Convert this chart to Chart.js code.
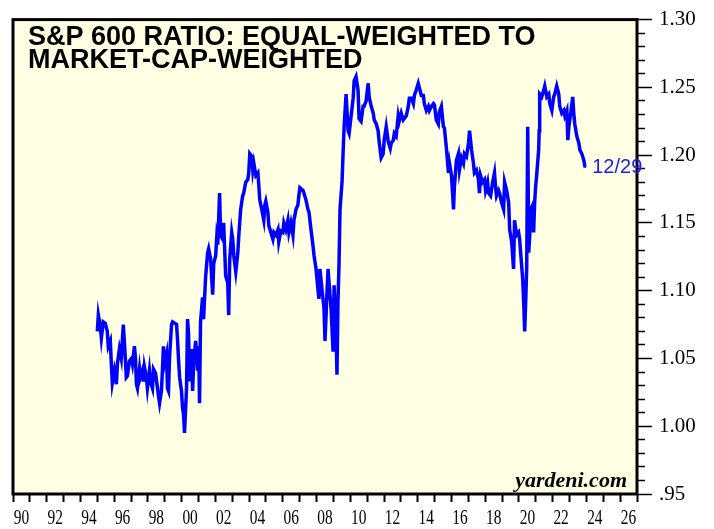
<!DOCTYPE html>
<html>
<head>
<meta charset="utf-8">
<script src="https://cdn.jsdelivr.net/npm/chart.js@4/dist/chart.umd.min.js"></script>
<style>
  html, body { margin: 0; padding: 0; background: #fff; }
  canvas { display: block; }
</style>
</head>
<body>
<canvas id="ratioChart" width="714" height="529"></canvas>
<script>
// Fechas (años decimales) y valores del ratio
const years = [
  1995.00, 1995.06, 1995.18, 1995.24, 1995.35, 1995.47, 1995.59, 1995.65, 1995.77, 1995.83,
  1995.89, 1996.01, 1996.13, 1996.19, 1996.31, 1996.42, 1996.54, 1996.60, 1996.66, 1996.72,
  1996.78, 1996.90, 1997.02, 1997.08, 1997.20, 1997.26, 1997.32, 1997.38, 1997.50, 1997.55,
  1997.67, 1997.73, 1997.79, 1997.91, 1997.97, 1998.09, 1998.15, 1998.27, 1998.33, 1998.45,
  1998.57, 1998.63, 1998.69, 1998.80, 1998.86, 1998.92, 1998.98, 1999.10, 1999.16, 1999.22,
  1999.28, 1999.40, 1999.46, 1999.58, 1999.70, 1999.76, 1999.82, 1999.88, 1999.99, 2000.05,
  2000.11, 2000.17, 2000.29, 2000.35, 2000.41, 2000.47, 2000.59, 2000.65, 2000.71, 2000.83,
  2000.95, 2001.01, 2001.06, 2001.12, 2001.24, 2001.30, 2001.42, 2001.54, 2001.60, 2001.72,
  2001.84, 2001.90, 2002.02, 2002.08, 2002.14, 2002.25, 2002.31, 2002.43, 2002.49, 2002.55,
  2002.61, 2002.73, 2002.79, 2002.85, 2002.97, 2003.03, 2003.09, 2003.21, 2003.33, 2003.39,
  2003.50, 2003.62, 2003.68, 2003.80, 2003.92, 2003.98, 2004.04, 2004.16, 2004.22, 2004.28,
  2004.40, 2004.52, 2004.58, 2004.63, 2004.75, 2004.87, 2004.93, 2004.99, 2005.11, 2005.17,
  2005.29, 2005.41, 2005.47, 2005.59, 2005.71, 2005.76, 2005.88, 2006.00, 2006.06, 2006.18,
  2006.30, 2006.36, 2006.48, 2006.60, 2006.66, 2006.78, 2006.89, 2006.95, 2007.01, 2007.19,
  2007.25, 2007.37, 2007.49, 2007.55, 2007.67, 2007.79, 2007.85, 2007.97, 2008.08, 2008.14,
  2008.20, 2008.32, 2008.44, 2008.50, 2008.62, 2008.68, 2008.74, 2008.86, 2008.98, 2009.04,
  2009.16, 2009.21, 2009.27, 2009.33, 2009.39, 2009.51, 2009.57, 2009.63, 2009.75, 2009.87,
  2009.93, 2010.05, 2010.17, 2010.23, 2010.34, 2010.46, 2010.52, 2010.64, 2010.76, 2010.82,
  2010.94, 2011.06, 2011.12, 2011.24, 2011.36, 2011.42, 2011.54, 2011.65, 2011.71, 2011.83,
  2011.95, 2012.01, 2012.13, 2012.25, 2012.37, 2012.43, 2012.55, 2012.61, 2012.72, 2012.84,
  2012.90, 2013.02, 2013.14, 2013.20, 2013.32, 2013.44, 2013.50, 2013.62, 2013.74, 2013.80,
  2013.91, 2014.03, 2014.09, 2014.21, 2014.33, 2014.39, 2014.51, 2014.63, 2014.69, 2014.81,
  2014.93, 2014.99, 2015.10, 2015.22, 2015.28, 2015.40, 2015.52, 2015.58, 2015.70, 2015.82,
  2015.88, 2016.00, 2016.12, 2016.17, 2016.29, 2016.41, 2016.47, 2016.59, 2016.71, 2016.77,
  2016.89, 2017.01, 2017.07, 2017.19, 2017.30, 2017.36, 2017.48, 2017.60, 2017.66, 2017.72,
  2017.84, 2017.96, 2018.02, 2018.14, 2018.20, 2018.32, 2018.44, 2018.55, 2018.61, 2018.67,
  2018.79, 2018.85, 2018.97, 2019.09, 2019.15, 2019.27, 2019.39, 2019.45, 2019.57, 2019.68,
  2019.74, 2019.86, 2019.98, 2020.04, 2020.10, 2020.22, 2020.28, 2020.34, 2020.40, 2020.46,
  2020.52, 2020.58, 2020.64, 2020.70, 2020.81, 2020.87, 2020.93, 2020.99, 2021.05, 2021.17,
  2021.20, 2021.23, 2021.35, 2021.47, 2021.53, 2021.65, 2021.77, 2021.83, 2021.95, 2022.06,
  2022.12, 2022.24, 2022.36, 2022.42, 2022.54, 2022.66, 2022.72, 2022.84, 2022.90, 2022.96,
  2023.07, 2023.19, 2023.25, 2023.31, 2023.43, 2023.55, 2023.61, 2023.73, 2023.85, 2023.91,
  2023.99
];
const ratio = [
  1.070, 1.082, 1.073, 1.065, 1.077, 1.076, 1.070, 1.059, 1.063, 1.046,
  1.032, 1.041, 1.031, 1.046, 1.057, 1.050, 1.075, 1.063, 1.050, 1.036,
  1.037, 1.048, 1.050, 1.046, 1.059, 1.050, 1.031, 1.028, 1.042, 1.036,
  1.041, 1.033, 1.044, 1.036, 1.028, 1.041, 1.033, 1.028, 1.042, 1.039,
  1.028, 1.022, 1.017, 1.026, 1.041, 1.059, 1.046, 1.053, 1.028, 1.026,
  1.050, 1.075, 1.077, 1.076, 1.075, 1.063, 1.048, 1.036, 1.026, 1.014,
  1.009, 0.995, 1.028, 1.079, 1.068, 1.033, 1.057, 1.026, 1.046, 1.063,
  1.041, 1.059, 1.017, 1.077, 1.095, 1.079, 1.110, 1.128, 1.131, 1.123,
  1.097, 1.120, 1.126, 1.139, 1.134, 1.172, 1.141, 1.138, 1.150, 1.131,
  1.111, 1.106, 1.082, 1.123, 1.143, 1.138, 1.126, 1.114, 1.128, 1.141,
  1.160, 1.170, 1.172, 1.180, 1.182, 1.187, 1.201, 1.199, 1.189, 1.194,
  1.185, 1.187, 1.177, 1.167, 1.160, 1.152, 1.163, 1.166, 1.158, 1.148,
  1.143, 1.138, 1.143, 1.141, 1.145, 1.136, 1.144, 1.143, 1.150, 1.145,
  1.152, 1.143, 1.150, 1.141, 1.152, 1.160, 1.163, 1.170, 1.176, 1.174,
  1.172, 1.167, 1.160, 1.158, 1.145, 1.133, 1.126, 1.116, 1.101, 1.094,
  1.116, 1.101, 1.087, 1.063, 1.099, 1.116, 1.106, 1.087, 1.055, 1.104,
  1.068, 1.038, 1.092, 1.119, 1.160, 1.180, 1.201, 1.220, 1.245, 1.218,
  1.216, 1.229, 1.242, 1.255, 1.258, 1.248, 1.227, 1.225, 1.236, 1.236,
  1.240, 1.253, 1.243, 1.236, 1.231, 1.226, 1.223, 1.218, 1.210, 1.198,
  1.201, 1.211, 1.221, 1.210, 1.205, 1.209, 1.211, 1.216, 1.214, 1.229,
  1.225, 1.231, 1.226, 1.227, 1.229, 1.236, 1.242, 1.242, 1.238, 1.244,
  1.248, 1.253, 1.250, 1.244, 1.244, 1.238, 1.233, 1.236, 1.233, 1.236,
  1.238, 1.237, 1.226, 1.223, 1.232, 1.236, 1.221, 1.220, 1.205, 1.187,
  1.194, 1.185, 1.160, 1.176, 1.196, 1.201, 1.189, 1.198, 1.194, 1.201,
  1.199, 1.209, 1.218, 1.204, 1.194, 1.187, 1.189, 1.182, 1.172, 1.185,
  1.180, 1.182, 1.174, 1.180, 1.172, 1.170, 1.180, 1.187, 1.177, 1.170,
  1.174, 1.172, 1.165, 1.160, 1.180, 1.174, 1.165, 1.145, 1.136, 1.116,
  1.152, 1.141, 1.143, 1.138, 1.128, 1.109, 1.092, 1.070, 1.092, 1.117,
  1.221, 1.128, 1.141, 1.160, 1.163, 1.143, 1.165, 1.177, 1.185, 1.204,
  1.218, 1.245, 1.243, 1.248, 1.251, 1.243, 1.245, 1.238, 1.233, 1.243,
  1.245, 1.251, 1.245, 1.236, 1.231, 1.233, 1.229, 1.233, 1.211, 1.221,
  1.231, 1.243, 1.231, 1.223, 1.214, 1.209, 1.204, 1.201, 1.196, 1.192,
  1.192
];

// Etiquetas de los ejes
const xTickLabels = ['90','92','94','96','98','00','02','04','06','08','10','12','14','16','18','20','22','24','26'];
const xLabelYears = [1990,1992,1994,1996,1998,2000,2002,2004,2006,2008,2010,2012,2014,2016,2018,2020,2022,2024,2026];
const yTickLabels = ['.95','1.00','1.05','1.10','1.15','1.20','1.25','1.30'];
const titleLines = ['S&P 600 RATIO: EQUAL-WEIGHTED TO', 'MARKET-CAP-WEIGHTED'];
const lastDateLabel = '12/29';
const sourceLabel = 'yardeni.com';

const xMin = 1990, xMax = 2027;
const yMin = 0.95, yMax = 1.30;

const puntos = years.map((x, i) => ({ x: x, y: ratio[i] }));

// Fondo, marco, títulos y etiquetas del eje x
const decoracion = {
  id: 'decoracion',
  beforeDraw(chart) {
    const { ctx, chartArea: a } = chart;
    ctx.save();
    ctx.fillStyle = '#FFFFE4';
    ctx.fillRect(a.left, a.top, a.right - a.left, a.bottom - a.top);
    ctx.restore();
  },
  afterDraw(chart) {
    const { ctx, chartArea: a } = chart;
    const xs = chart.scales.x;
    const ys = chart.scales.y;
    ctx.save();

    // marco
    ctx.strokeStyle = '#000';
    ctx.lineWidth = 3;
    ctx.strokeRect(a.left, a.top, a.right - a.left, a.bottom - a.top);

    // titulo
    ctx.fillStyle = '#000';
    ctx.font = 'bold 27px "Liberation Sans", Arial, sans-serif';
    ctx.textAlign = 'left';
    ctx.textBaseline = 'alphabetic';
    ctx.fillText(titleLines[0], a.left + 15, 44.5);
    ctx.fillText(titleLines[1], a.left + 15, 68);

    // fuente
    ctx.font = 'italic bold 22px "Liberation Serif", "Times New Roman", serif';
    ctx.textAlign = 'right';
    ctx.fillText(sourceLabel, a.right - 10, 487);

    // etiqueta del último dato
    const n = years.length - 1;
    ctx.fillStyle = '#1a1aff';
    ctx.font = '20px "Liberation Sans", Arial, sans-serif';
    ctx.textAlign = 'left';
    ctx.fillText(lastDateLabel, xs.getPixelForValue(years[n]) + 6, ys.getPixelForValue(ratio[n]) + 7);

    // etiquetas del eje x, centradas en cada año, tipografía condensada
    ctx.fillStyle = '#000';
    ctx.font = '22px "Liberation Serif", "Times New Roman", serif';
    ctx.textAlign = 'center';
    xLabelYears.forEach((yr, i) => {
      const px = xs.getPixelForValue(yr + 0.5);
      ctx.save();
      ctx.translate(px, a.bottom + 30);
      ctx.scale(0.7, 1);
      ctx.fillText(xTickLabels[i], 0, 0);
      ctx.restore();
    });

    ctx.restore();
  }
};

const ctx = document.getElementById('ratioChart').getContext('2d');

new Chart(ctx, {
  type: 'line',
  data: {
    datasets: [{
      label: 'S&P 600 ratio',
      data: puntos,
      borderColor: '#0000FF',
      borderWidth: 3.5,
      pointRadius: 0,
      tension: 0,
      fill: false
    }]
  },
  options: {
    responsive: false,
    animation: false,
    devicePixelRatio: 1,
    layout: {
      padding: { left: 13, top: 15, right: 0, bottom: 0 }
    },
    plugins: {
      legend: { display: false },
      tooltip: { enabled: false },
      title: { display: false }
    },
    scales: {
      x: {
        type: 'linear',
        position: 'bottom',
        min: xMin,
        max: xMax,
        afterBuildTicks: axis => {
          const t = [];
          for (let v = xMin; v <= xMax; v++) t.push({ value: v });
          axis.ticks = t;
        },
        afterFit: axis => { axis.height = 35; },
        border: { display: false },
        grid: {
          drawOnChartArea: false,
          drawTicks: true,
          tickLength: 8,
          tickWidth: 2,
          tickColor: '#000'
        },
        ticks: { display: false }
      },
      y: {
        type: 'linear',
        position: 'right',
        min: yMin,
        max: yMax,
        afterBuildTicks: axis => {
          const t = [];
          for (let i = 0; i <= 35; i++) t.push({ value: Math.round((yMin + i * 0.01) * 100) / 100 });
          axis.ticks = t;
        },
        afterFit: axis => { axis.width = 77; },
        border: { display: false },
        grid: {
          drawOnChartArea: false,
          drawTicks: true,
          tickLength: 15,
          tickWidth: 1.5,
          tickColor: '#000',
          tickBorderDash: c => (Math.round(c.tick.value * 100) % 5 === 0 ? [] : [8, 40])
        },
        ticks: {
          autoSkip: false,
          padding: 7,
          color: '#000',
          font: { family: '"Liberation Serif", "Times New Roman", serif', size: 21 },
          callback: function(value) {
            const k = Math.round(value * 100);
            if (k % 5 !== 0) return '';
            return yTickLabels[(k - 95) / 5];
          }
        }
      }
    }
  },
  plugins: [decoracion]
});
</script>
</body>
</html>
